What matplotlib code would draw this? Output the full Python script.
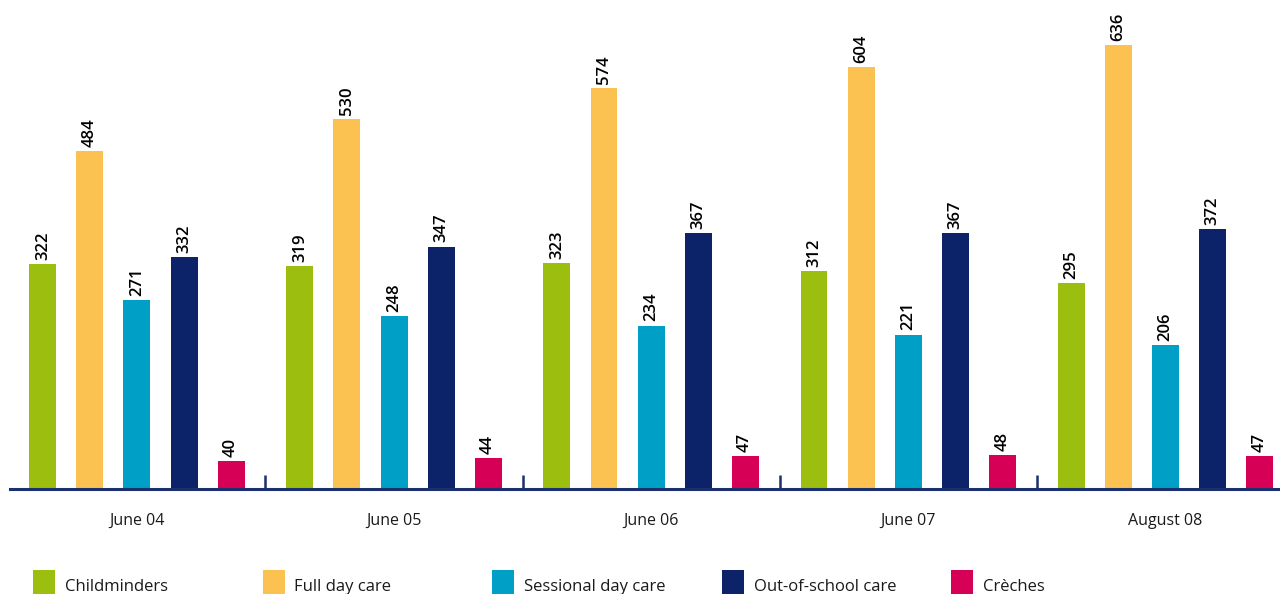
import numpy as np
import matplotlib.pyplot as plt
from matplotlib.patches import Rectangle

plt.rcParams['font.family'] = ['Open Sans', 'DejaVu Sans']

periods = ['June 04', 'June 05', 'June 06', 'June 07', 'August 08']
series = ['Childminders', 'Full day care', 'Sessional day care', 'Out-of-school care', 'Crèches']
childminders = [322, 319, 323, 312, 295]
full_day = [484, 530, 574, 604, 636]
sessional = [271, 248, 234, 221, 206]
out_of_school = [332, 347, 367, 367, 372]
creches = [40, 44, 47, 48, 47]
colors = ['#9bbe0f', '#fbc151', '#00a0c6', '#0c2369', '#d60057']

values = [childminders, full_day, sessional, out_of_school, creches]

fig = plt.figure(figsize=(12.8, 5.94), dpi=100)
ax = fig.add_axes([10/1280, 105/594, 1270/1280, 470/594])

x = np.arange(len(periods))
step = 0.183
width = 0.105
for i in range(len(series)):
    pos = x + (i - 2) * step
    ax.bar(pos, values[i], width=width, color=colors[i])
    for p, v in zip(pos, values[i]):
        ax.text(p, v + 6, str(v), rotation=90, ha='center', va='bottom',
                fontsize=12, fontweight='semibold', color='black')

ax.set_xlim(-0.494, 4.447)
ax.set_ylim(0, 673)
for s in ['top', 'right', 'left']:
    ax.spines[s].set_visible(False)
ax.spines['bottom'].set_color('#1c2f6e')
ax.spines['bottom'].set_linewidth(2.2)
ax.set_yticks([])
ax.set_xticks(x)
ax.set_xticklabels(periods, fontsize=11.5, color='#1a1a1a')
ax.tick_params(axis='x', length=0, pad=17)
for b in x[:-1] + 0.5:
    ax.plot([b, b], [0, 20], color='#1c2f6e', lw=1.8, solid_capstyle='butt')

# legend
for i in range(len(series)):
    x0 = 33 + i * 229.5
    fig.add_artist(Rectangle((x0/1280, 0), 22/1280, 24/594, transform=fig.transFigure,
                             color=colors[i], lw=0))
    fig.text((x0 + 32)/1280, 3/594, series[i], fontsize=12, color='#1a1a1a',
             ha='left', va='baseline')

fig.savefig('out.png', dpi=100)
